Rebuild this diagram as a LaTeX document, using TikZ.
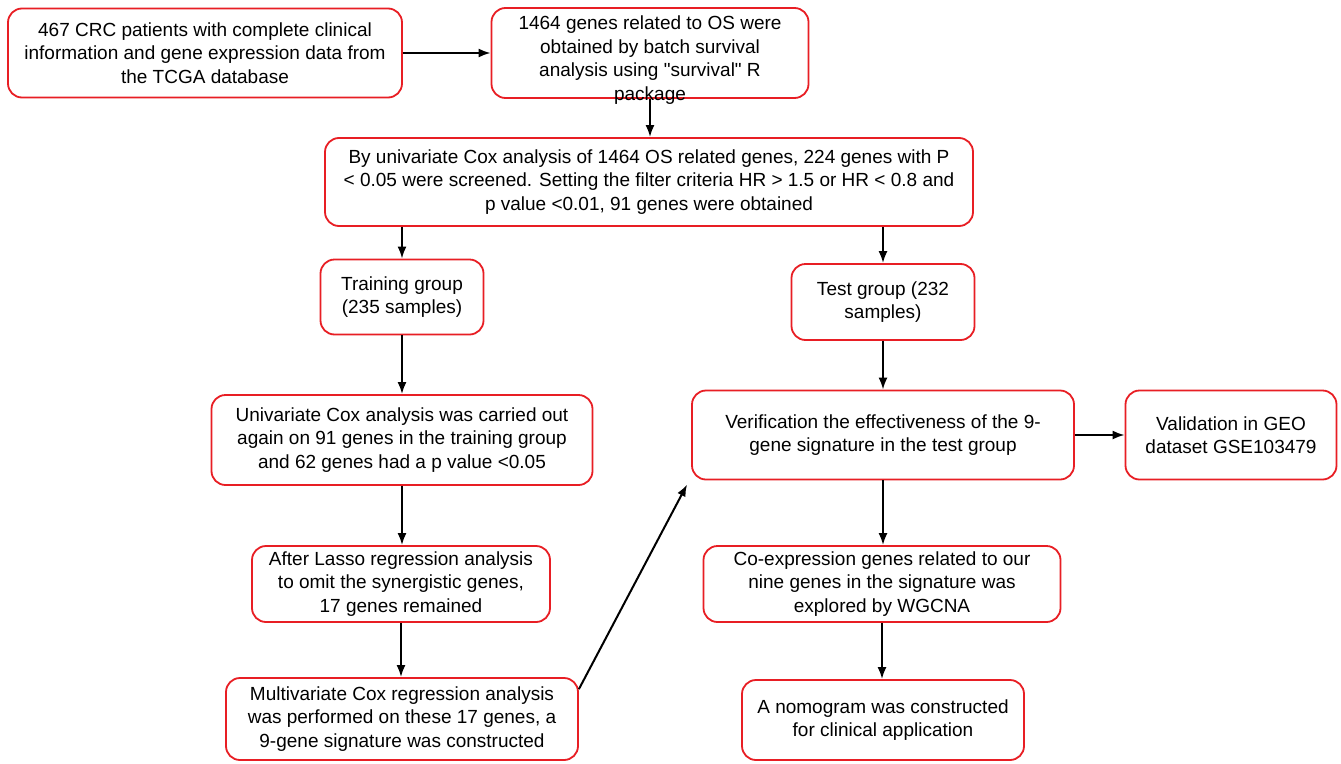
\documentclass[tikz,border=0pt]{standalone}
\usepackage{fontspec}
\setmainfont{Liberation Sans}[Ligatures=TeXOff]
\usetikzlibrary{arrows.meta}
\definecolor{boxred}{RGB}{232,30,36}
\begin{document}
\begin{tikzpicture}[x=1pt,y=-1pt,
  box/.style={draw=boxred, line width=1.8pt, rounded corners=14pt, fill=white,
    align=center, inner sep=0pt, font=\fontsize{19}{23.5}\selectfont},
  txt/.style={align=center, inner sep=0pt, font=\fontsize{19}{23.5}\selectfont},
  arr/.style={-{Latex[length=12pt,width=9pt]}, line width=2pt, black}]
\useasboundingbox[fill=white] (0,0) rectangle (1341,763);

\node[box, minimum width=394pt, minimum height=89pt] (a) at (205,53)
  {467 CRC patients with complete clinical\\information and gene expression data from\\the TCGA database};
\node[box, minimum width=317pt, minimum height=90pt] (b) at (650,53) {};
\node[txt] (btext) at ([yshift=-7pt]b.center)
  {1464 genes related to OS were\\obtained by batch survival\\analysis using "survival" R\\package};
\node[box, minimum width=648pt, minimum height=88pt] (c) at (649,182)
  {By univariate Cox analysis of 1464 OS related genes, 224 genes with P\\< 0.05 were screened. Setting the filter criteria HR > 1.5 or HR < 0.8 and\\p value <0.01, 91 genes were obtained};
\node[box, minimum width=163pt, minimum height=75pt] (train) at (402,297)
  {Training group\\(235 samples)};
\node[box, minimum width=183pt, minimum height=76pt] (test) at (883,302)
  {Test group (232\\samples)};
\node[box, minimum width=381pt, minimum height=90pt] (univ) at (402,440)
  {Univariate Cox analysis was carried out\\again on 91 genes in the training group\\and 62 genes had a p value <0.05};
\node[box, minimum width=382pt, minimum height=89pt] (verif) at (883,435)
  {Verification the effectiveness of the 9-\\gene signature in the test group};
\node[box, minimum width=211pt, minimum height=89pt] (geo) at (1231,435)
  {Validation in GEO\\dataset GSE103479};
\node[box, minimum width=298pt, minimum height=76pt] (lasso) at (401,584)
  {After Lasso regression analysis\\to omit the synergistic genes,\\17 genes remained};
\node[box, minimum width=357pt, minimum height=76pt] (coexp) at (882,584)
  {Co-expression genes related to our\\nine genes in the signature was\\explored by WGCNA};
\node[box, minimum width=352pt, minimum height=82pt] (multi) at (402,719)
  {Multivariate Cox regression analysis\\was performed on these 17 genes, a\\9-gene signature was constructed};
\node[box, minimum width=282pt, minimum height=80pt] (nomo) at (883,720)
  {A nomogram was constructed\\for clinical application};

\draw[arr] (a.east) -- (a.east -| b.west);
\draw[arr] (b.south) -- (b.south |- c.north);
\draw[arr] (train.north |- c.south) -- (train.north);
\draw[arr] (test.north |- c.south) -- (test.north);
\draw[arr] (train.south) -- (train.south |- univ.north);
\draw[arr] (test.south) -- (test.south |- verif.north);
\draw[arr] (univ.south) -- (univ.south |- lasso.north);
\draw[arr] (lasso.south) -- (lasso.south |- multi.north);
\draw[arr] ([yshift=-12pt]multi.north east) -- ([xshift=-4pt,yshift=-4pt]verif.south west);
\draw[arr] (verif.east) -- (geo.west);
\draw[arr] (verif.south) -- (verif.south |- coexp.north);
\draw[arr] (coexp.south) -- (coexp.south |- nomo.north);
\end{tikzpicture}
\end{document}
